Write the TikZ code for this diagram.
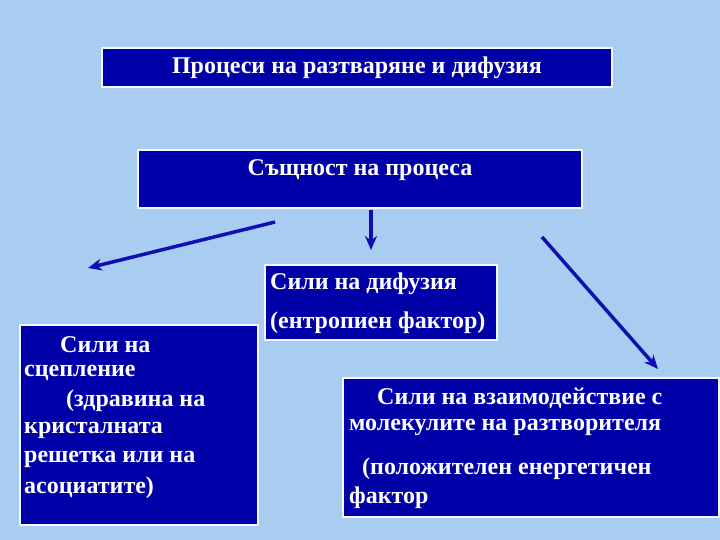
\documentclass[tikz,border=0pt]{standalone}
\usepackage{fontspec}
\setmainfont{Liberation Serif}
\usetikzlibrary{arrows.meta}
\definecolor{bg}{HTML}{A9CDF0}
\definecolor{bx}{HTML}{0000A8}
\definecolor{ar}{HTML}{1010B0}
\begin{document}
\begin{tikzpicture}[x=1pt,y=-1pt,
  box/.style={fill=bx,draw=white!85!bg,line width=2.5pt},
  txt/.style={text=white,font=\bfseries\fontsize{24}{24}\selectfont,inner sep=0pt},
  arr/.style={draw=ar,line width=3.5pt,-{Stealth[length=14pt,width=12pt]}}]
\fill[bg] (0,0) rectangle (720,540);
\useasboundingbox (0,0) rectangle (720,540);
\draw[box] (102,48) rectangle (612,87);
\node[txt] (t1) at (357,68) {Процеси на разтваряне и дифузия};
\draw[box] (138,150) rectangle (582,208);
\node[txt] (t2) at (360,170) {Същност на процеса};
\draw[box] (265,265) rectangle (497,340);
\node[txt,anchor=west] (t3a) at (270,284) {Сили на дифузия};
\node[txt,anchor=west] (t3b) at (270,323) {(ентропиен фактор)};
\draw[box] (20,325) rectangle (258,525);
\node[txt,anchor=west] (t4a) at (60,345) {Сили на};
\node[txt,anchor=west] (t4b) at (24,373) {сцепление};
\node[txt,anchor=west] (t4c) at (66,401) {(здравина на};
\node[txt,anchor=west] (t4d) at (24,430) {кристалната};
\node[txt,anchor=west] (t4e) at (24,459) {решетка или на};
\node[txt,anchor=west] (t4f) at (24,488) {асоциатите)};
\draw[box] (343,378) rectangle (719,517);
\node[txt,anchor=west] (t5a) at (377,398) {Сили на взаимодействие с};
\node[txt,anchor=west] (t5b) at (349,427) {молекулите на разтворителя};
\node[txt,anchor=west] (t5c) at (362,469) {(положителен енергетичен};
\node[txt,anchor=west] (t5d) at (349,498) {фактор};
\coordinate (a1s) at (275,222); \coordinate (a1e) at (88,268);
\coordinate (a2s) at (371,210); \coordinate (a2e) at (371,250);
\coordinate (a3s) at (542,237); \coordinate (a3e) at (658,369);
\draw[arr] (a1s) -- (a1e);
\draw[arr] (a2s) -- (a2e);
\draw[arr] (a3s) -- (a3e);
\end{tikzpicture}
\end{document}
